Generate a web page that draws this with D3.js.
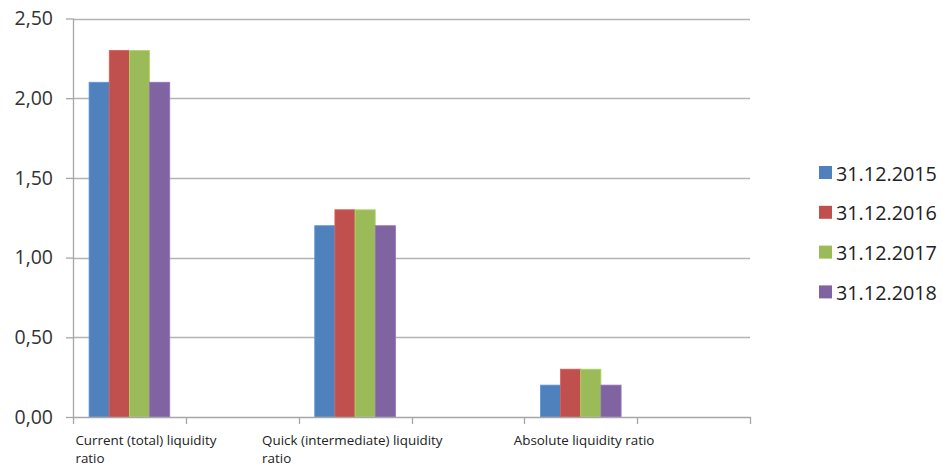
<!DOCTYPE html>
<html><head><meta charset="utf-8">
<script src="https://cdn.jsdelivr.net/npm/d3@7/dist/d3.min.js"></script>
<style>
html,body{margin:0;padding:0;background:#fff;}
svg{display:block;font-family:"Open Sans",sans-serif;}
</style></head><body>
<svg id="chart" width="942" height="469"></svg>
<script>
const categories = ["Current (total) liquidity ratio", "", "Quick (intermediate) liquidity ratio", "", "Absolute liquidity ratio", ""];
const categoryLines = [["Current (total) liquidity", "ratio"], [], ["Quick (intermediate) liquidity", "ratio"], [], ["Absolute liquidity ratio"], []];
const seriesNames = ["31.12.2015", "31.12.2016", "31.12.2017", "31.12.2018"];
const s2015 = [2.1, null, 1.2, null, 0.2, null];
const s2016 = [2.3, null, 1.3, null, 0.3, null];
const s2017 = [2.3, null, 1.3, null, 0.3, null];
const s2018 = [2.1, null, 1.2, null, 0.2, null];
const yTicks = [0, 0.5, 1, 1.5, 2, 2.5];
const colors = ["#4f81bd", "#c0504d", "#9bbb59", "#8064a2"];

const series = [s2015, s2016, s2017, s2018];
const svg = d3.select("#chart");
const m = {left: 73, right: 750, top: 18.5, bottom: 417};

const x = d3.scaleBand().domain(d3.range(categories.length)).range([m.left, m.right]).paddingInner(0).paddingOuter(0);
const bw = x.bandwidth();
const gapFrac = 0.285;
const xs = d3.scaleBand().domain(d3.range(series.length)).range([bw * gapFrac / 2, bw * (1 - gapFrac / 2)]).padding(0);
const y = d3.scaleLinear().domain([0, 2.5]).range([m.bottom, m.top]);
const fmt = v => d3.format(".2f")(v).replace(".", ",");

// gridlines
svg.append("g").selectAll("line").data(yTicks.filter(t => t > 0)).join("line")
  .attr("x1", m.left).attr("x2", m.right)
  .attr("y1", d => Math.round(y(d)) + 0.5).attr("y2", d => Math.round(y(d)) + 0.5)
  .attr("stroke", "#b3b3b3").attr("stroke-width", 1.3);

// y axis
const yAxis = d3.axisLeft(y).tickValues(yTicks).tickFormat(fmt).tickSize(7).tickPadding(13);
const gy = svg.append("g").attr("transform", `translate(${m.left},0)`).call(yAxis);
gy.select(".domain").attr("stroke", "#a6a6a6").attr("stroke-width", 1.3).attr("d", `M0.5,${m.top}V${m.bottom}`);
gy.selectAll(".tick line").attr("stroke", "#a6a6a6").attr("stroke-width", 1.3);
gy.selectAll(".tick text").attr("font-size", 19.5).attr("fill", "#333").attr("font-family", "Open Sans, sans-serif");

// bars
series.forEach((s, si) => {
  svg.append("g").selectAll("rect").data(s.map((v, i) => ({v, i})).filter(d => d.v != null)).join("rect")
    .attr("x", d => x(d.i) + xs(si))
    .attr("width", xs.bandwidth())
    .attr("y", d => y(d.v))
    .attr("height", d => y(0) - y(d.v))
    .attr("fill", colors[si])
    .attr("stroke", d3.color(colors[si]).brighter(0.4))
    .attr("stroke-width", 0.8);
});

// x axis
const gx = svg.append("g");
gx.append("line").attr("x1", m.left).attr("x2", m.right + 1)
  .attr("y1", m.bottom + 0.5).attr("y2", m.bottom + 0.5)
  .attr("stroke", "#a6a6a6").attr("stroke-width", 1.3);
const tickXs = d3.range(categories.length + 1).map(i => i < categories.length ? x(i) : m.right);
gx.selectAll("line.tk").data(tickXs).join("line").attr("class", "tk")
  .attr("x1", d => Math.round(d) + 0.5).attr("x2", d => Math.round(d) + 0.5)
  .attr("y1", m.bottom).attr("y2", m.bottom + 7)
  .attr("stroke", "#a6a6a6").attr("stroke-width", 1.3);

const labelDx = [-54, 0, -93, 0, -67, 0];
categoryLines.forEach((lines, i) => {
  if (!lines.length) return;
  const t = gx.append("text")
    .attr("x", x(i) + bw / 2 + labelDx[i])
    .attr("y", 445)
    .attr("font-size", 13.4).attr("fill", "#222");
  lines.forEach((ln, k) => {
    t.append("tspan").attr("x", x(i) + bw / 2 + labelDx[i]).attr("dy", k === 0 ? 0 : 18).text(ln);
  });
});

// legend
const lg = svg.append("g").attr("transform", "translate(819,166)");
seriesNames.forEach((n, i) => {
  const g = lg.append("g").attr("transform", `translate(0,${i * 39.8})`);
  g.append("rect").attr("width", 13).attr("height", 13).attr("fill", colors[i]);
  g.append("text").attr("x", 17).attr("y", 14.5).attr("font-size", 19.8).attr("fill", "#222").text(n);
});
</script>
</body></html>
